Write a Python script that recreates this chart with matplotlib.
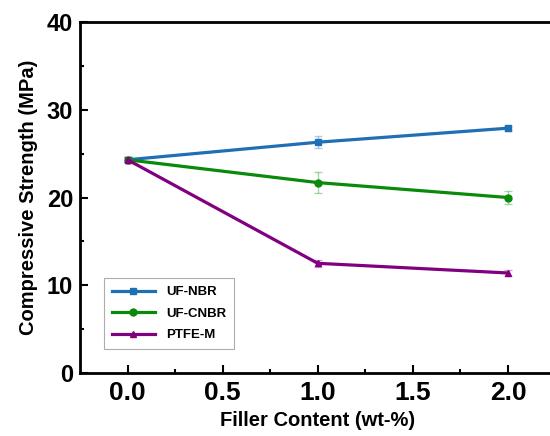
import matplotlib.pyplot as plt

plt.rcParams['font.family'] = ['Liberation Sans', 'DejaVu Sans']
plt.rcParams['font.weight'] = 'bold'

filler = [0.0, 1.0, 2.0]
uf_nbr = [24.3, 26.3, 27.9]
uf_nbr_err = [0.3, 0.7, 0.3]
uf_cnbr = [24.3, 21.7, 20.0]
uf_cnbr_err = [0.3, 1.2, 0.7]
ptfe_m = [24.3, 12.5, 11.4]
ptfe_m_err = [0.3, 0.4, 0.3]

fig = plt.figure(figsize=(5.5, 4.36), dpi=100)
ax = fig.add_axes([0.1455, 0.1445, 0.8645, 0.805])

series = [
    (uf_nbr, uf_nbr_err, '#1f6fb4', 's', 'UF-NBR'),
    (uf_cnbr, uf_cnbr_err, '#0a8a0a', 'o', 'UF-CNBR'),
    (ptfe_m, ptfe_m_err, '#800080', '^', 'PTFE-M'),
]
for vals, err, col, mk, lab in series:
    ax.errorbar(filler, vals, yerr=err, fmt='none', ecolor=col, alpha=0.35,
                elinewidth=1, capsize=3, capthick=1)
    ax.plot(filler, vals, color=col, marker=mk, markersize=5, linewidth=2.3, label=lab)

ax.set_xlim(-0.25, 2.25)
ax.set_ylim(0, 40)
ax.set_xticks([0.0, 0.5, 1.0, 1.5, 2.0])
ax.set_xticks([0.25, 0.75, 1.25, 1.75], minor=True)
ax.set_yticks([0, 10, 20, 30, 40])
ax.set_yticks([5, 15, 25, 35], minor=True)
ax.set_xticklabels(['0.0', '0.5', '1.0', '1.5', '2.0'])
ax.tick_params(which='major', direction='in', length=6, width=1.5)
ax.tick_params(axis='x', which='major', labelsize=19, pad=6)
ax.tick_params(axis='y', which='major', labelsize=17, pad=5)
ax.tick_params(which='minor', direction='in', length=3, width=1.5)
for s in ax.spines.values():
    s.set_linewidth(2)

ax.set_xlabel('Filler Content (wt-%)', fontsize=14.5, fontweight='bold', labelpad=4)
ax.set_ylabel('Compressive Strength (MPa)', fontsize=14.5, fontweight='bold', labelpad=6)

leg = ax.legend(loc='lower left', bbox_to_anchor=(0.05, 0.068), borderaxespad=0,
                fontsize=9.5, frameon=True, fancybox=False, edgecolor='#999999',
                handlelength=3.3, borderpad=0.6, labelspacing=0.7)
leg.get_frame().set_linewidth(0.8)

fig.savefig('out.png', dpi=100)
